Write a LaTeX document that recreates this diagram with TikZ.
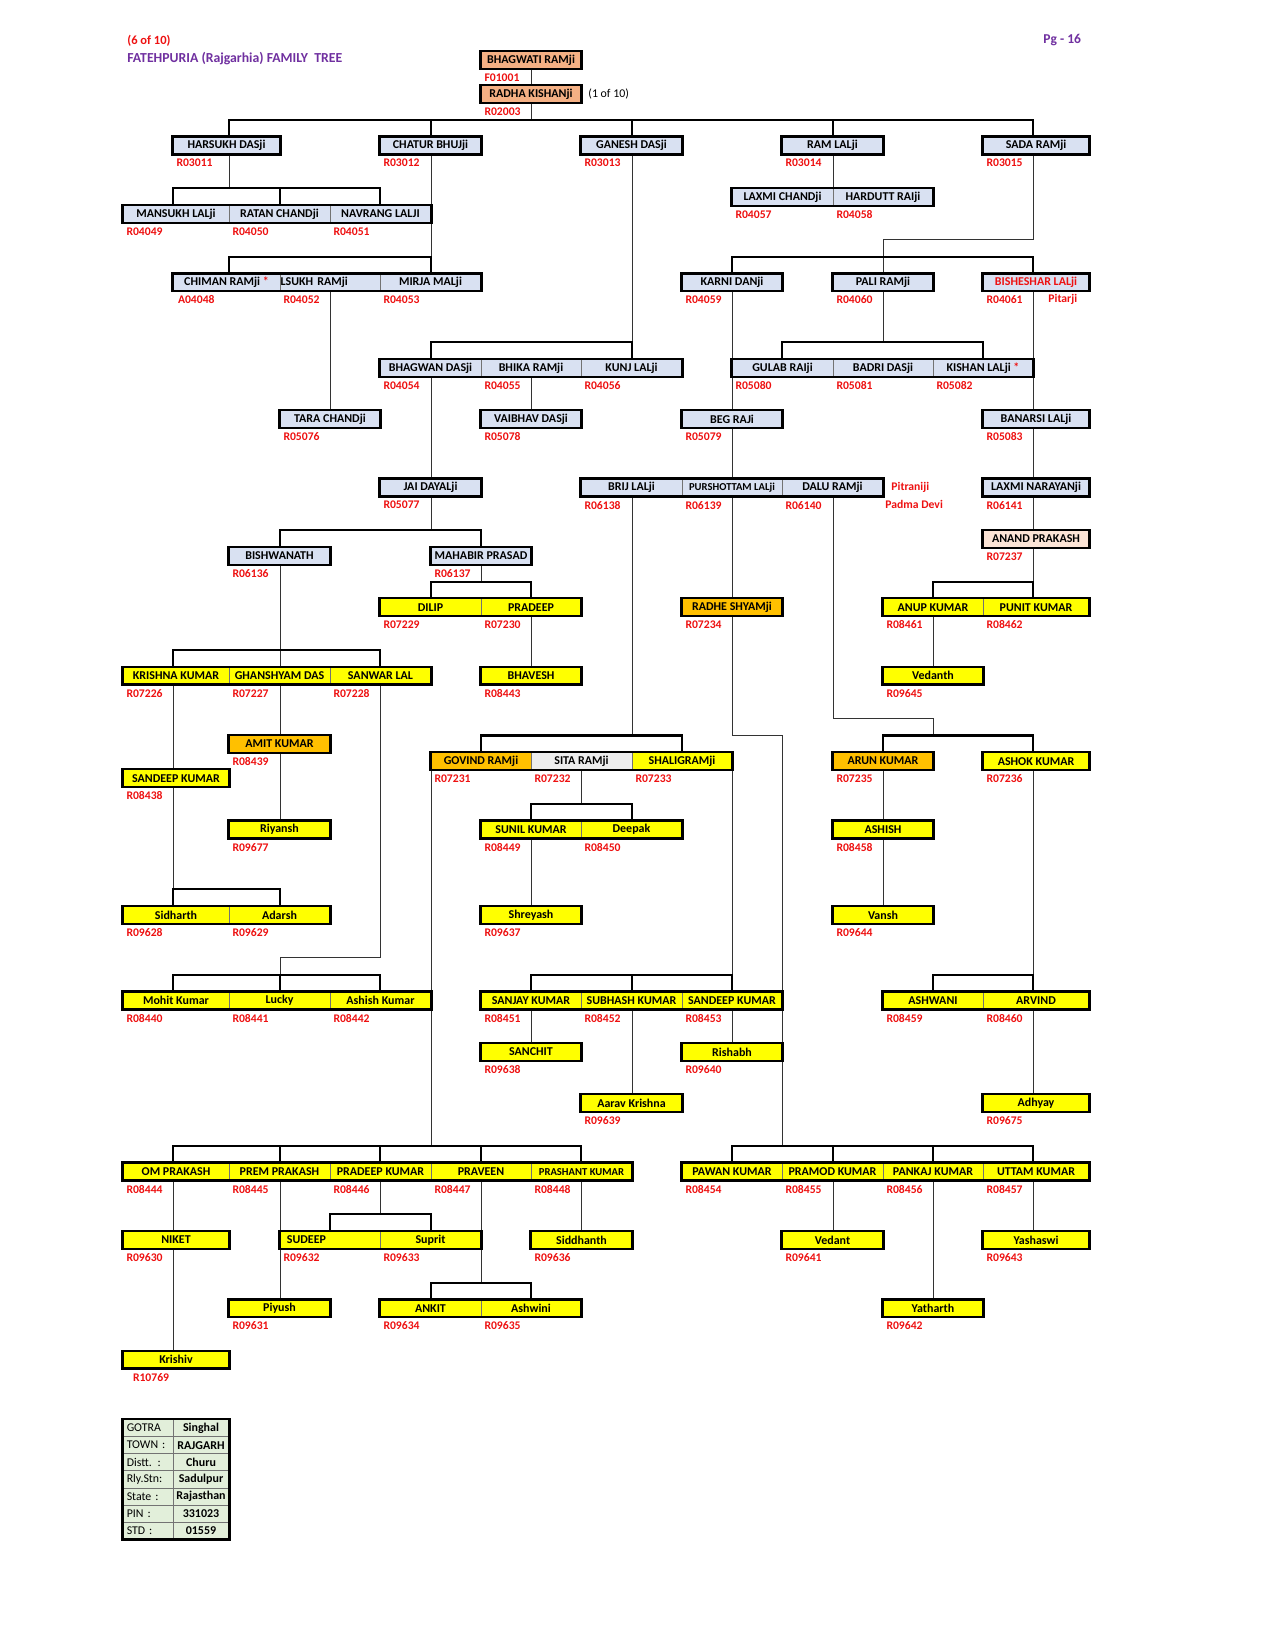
\documentclass[tikz,border=0pt]{standalone}
\usepackage{fontspec}
\setmainfont{Carlito}
\usetikzlibrary{calc}
\definecolor{blueg}{HTML}{D9E1F2}
\definecolor{ylw}{HTML}{FFFF00}
\definecolor{orng}{HTML}{FFC000}
\definecolor{slmn}{HTML}{F4B084}
\definecolor{pch}{HTML}{FCE4D6}
\definecolor{gryc}{HTML}{EDEDED}
\definecolor{grn}{HTML}{E2EFDA}
\definecolor{idred}{HTML}{EE1111}
\definecolor{purp}{HTML}{7030A0}
\def\colx{{123,173,229,280,330,380,431,481,531,581,632,682,732,782,833,883,933,983,1033,1089}}
\newcommand\pcell[6][]{%
  \pgfmathsetmacro\xa{\colx[#3]}%
  \pgfmathsetmacro\xb{\colx[#4]}%
  \pgfmathsetmacro\cw{(\xb-\xa)*0.48}%
  \pgfmathsetmacro\cx{(\xa+\xb)/2}%
  \pgfmathsetmacro\cy{137+17.1*(#5+0.5)}%
  \node[cellbox,minimum width=\cw pt,#1] (#2) at (\cx,\cy) {#6};}
\newcommand\pid[3][3.5]{\node[idlab] (#2id) at ($(#2.south west)+(#1,8.6)$) {#3};}
\newcommand\pgrp[2]{\draw[grpline] (#1.north west) rectangle (#2.south east);}
\tikzset{
  cellbox/.style={draw=black!55,line width=0.4pt,inner sep=0pt,minimum height=8.208pt,
    font=\fontsize{5.75}{6}\selectfont\bfseries,fill=blueg},
  pb/.style={fill=blueg}, py/.style={fill=ylw}, po/.style={fill=orng},
  ps/.style={fill=slmn}, pp/.style={fill=pch}, pg/.style={fill=gryc}, pgr/.style={fill=grn},
  small/.style={font=\fontsize{5.1}{6}\selectfont\bfseries},
  lft/.style={text width={\cw pt-3.6pt},inner xsep=1.8pt,align=left},
  lft0/.style={text width={\cw pt-0.6pt},inner xsep=0.3pt,align=left},
  reg/.style={font=\fontsize{5.7}{6}\selectfont},
  idlab/.style={font=\fontsize{5.6}{6}\selectfont\bfseries,text=idred,anchor=west,inner sep=0pt},
  plain/.style={anchor=west,inner sep=0pt},
  grpline/.style={line width=1.1pt,black},
  bar/.style={line width=1pt,black,line join=miter},
  vline/.style={line width=0.45pt,black!80},
}
\begin{document}
\begin{tikzpicture}[x=0.48pt,y=-0.48pt]
\fill[white] (0,0) rectangle (1275,1650);
\useasboundingbox (0,0) rectangle (1275,1650);
\foreach \i/\v in {0/123,1/173,2/229,3/280,4/330,5/380,6/431,7/481,8/531,9/581,10/632,11/682,12/732,13/782,14/833,15/883,16/933,17/983,18/1033,19/1089}
  \coordinate (c\i) at (\v,0);
\foreach \n in {0,...,82} \coordinate (b\n) at (0,{137+17.1*\n});
\coordinate (btop) at (0,119.9);

% header
\node[plain,font=\fontsize{6}{7}\selectfont\bfseries,text=idred] (pgof) at (127,41) {(6 of 10)};
\node[plain,font=\fontsize{6.6}{8}\selectfont\bfseries,text=purp] (title) at (127,58.5) {FATEHPURIA (Rajgarhia) FAMILY\ \ TREE};
\node[plain,font=\fontsize{6.5}{8}\selectfont\bfseries,text=purp] (pgno) at (1043,40) {Pg - 16};

% cells
\pcell[ps]{bhagwati}{7}{9}{-5}{BHAGWATI RAMji}
\pcell[ps]{radha}{7}{9}{-3}{RADHA KISHANji}
\pcell[pb]{harsukh}{1}{3}{0}{HARSUKH DASji}
\pcell[pb]{chatur}{5}{7}{0}{CHATUR BHUJji}
\pcell[pb]{ganesh}{9}{11}{0}{GANESH DASji}
\pcell[pb]{ramlal}{13}{15}{0}{RAM LALji}
\pcell[pb]{sada}{17}{19}{0}{SADA RAMji}
\pcell[pb]{laxmic}{12}{14}{3}{LAXMI CHANDji}
\pcell[pb]{hardutt}{14}{16}{3}{HARDUTT RAIji}
\pcell[pb]{mansukh}{0}{2}{4}{MANSUKH LALji}
\pcell[pb]{ratan}{2}{4}{4}{RATAN CHANDji}
\pcell[pb]{navrang}{4}{6}{4}{NAVRANG LALJI}
\pcell[pb]{chiman}{1}{3}{8}{CHIMAN RAMji \textcolor{idred}{*}}
\pcell[pb,lft0]{lsukh}{3}{5}{8}{LSUKH RAMji}
\pcell[pb]{mirja}{5}{7}{8}{MIRJA MALji}
\pcell[pb]{karni}{11}{13}{8}{KARNI DANji}
\pcell[pb]{pali}{14}{16}{8}{PALI RAMji}
\pcell[pb,text=idred]{bisheshar}{17}{19}{8}{BISHESHAR LALji}
\pcell[pb]{bhagwan}{5}{7}{13}{BHAGWAN DASji}
\pcell[pb]{bhika}{7}{9}{13}{BHIKA RAMji}
\pcell[pb]{kunj}{9}{11}{13}{KUNJ LALji}
\pcell[pb]{gulab}{12}{14}{13}{GULAB RAIji}
\pcell[pb]{badri}{14}{16}{13}{BADRI DASji}
\pcell[pb]{kishan}{16}{18}{13}{KISHAN LALji \textcolor{idred}{*}}
\pcell[pb]{tara}{3}{5}{16}{TARA CHANDji}
\pcell[pb]{vaibhav}{7}{9}{16}{VAIBHAV DASji}
\pcell[pb]{beg}{11}{13}{16}{BEG RAJi}
\pcell[pb]{banarsi}{17}{19}{16}{BANARSI LALji}
\pcell[pb]{jai}{5}{7}{20}{JAI DAYALji}
\pcell[pb]{brij}{9}{11}{20}{BRIJ LALji}
\pcell[pb,small]{purshottam}{11}{13}{20}{PURSHOTTAM LALji}
\pcell[pb]{dalu}{13}{15}{20}{DALU RAMji}
\pcell[pb]{laxmin}{17}{19}{20}{LAXMI NARAYANji}
\pcell[pp]{anand}{17}{19}{23}{ANAND PRAKASH}
\pcell[pb]{bishwanath}{2}{4}{24}{BISHWANATH}
\pcell[pb]{mahabir}{6}{8}{24}{MAHABIR PRASAD}
\pcell[py]{dilip}{5}{7}{27}{DILIP}
\pcell[py]{pradeep}{7}{9}{27}{PRADEEP}
\pcell[po]{radhe}{11}{13}{27}{RADHE SHYAMji}
\pcell[py]{anup}{15}{17}{27}{ANUP KUMAR}
\pcell[py]{punit}{17}{19}{27}{PUNIT KUMAR}
\pcell[py]{krishna}{0}{2}{31}{KRISHNA KUMAR}
\pcell[py]{ghanshyam}{2}{4}{31}{GHANSHYAM DAS}
\pcell[py]{sanwar}{4}{6}{31}{SANWAR LAL}
\pcell[py]{bhavesh}{7}{9}{31}{BHAVESH}
\pcell[py]{vedanth}{15}{17}{31}{Vedanth}
\pcell[po]{amit}{2}{4}{35}{AMIT KUMAR}
\pcell[po]{govind}{6}{8}{36}{GOVIND RAMji}
\pcell[pg]{sita}{8}{10}{36}{SITA RAMji}
\pcell[py]{shaligram}{10}{12}{36}{SHALIGRAMji}
\pcell[po]{arun}{14}{16}{36}{ARUN KUMAR}
\pcell[py]{ashok}{17}{19}{36}{ASHOK KUMAR}
\pcell[py]{sandeepk}{0}{2}{37}{SANDEEP KUMAR}
\pcell[py]{riyansh}{2}{4}{40}{Riyansh}
\pcell[py]{sunil}{7}{9}{40}{SUNIL KUMAR}
\pcell[py]{deepak}{9}{11}{40}{Deepak}
\pcell[py]{ashish}{14}{16}{40}{ASHISH}
\pcell[py]{sidharth}{0}{2}{45}{Sidharth}
\pcell[py]{adarsh}{2}{4}{45}{Adarsh}
\pcell[py]{shreyash}{7}{9}{45}{Shreyash}
\pcell[py]{vansh}{14}{16}{45}{Vansh}
\pcell[py]{mohit}{0}{2}{50}{Mohit Kumar}
\pcell[py]{lucky}{2}{4}{50}{Lucky}
\pcell[py]{ashishk}{4}{6}{50}{Ashish Kumar}
\pcell[py]{sanjay}{7}{9}{50}{SANJAY KUMAR}
\pcell[py]{subhash}{9}{11}{50}{SUBHASH KUMAR}
\pcell[py]{sandeep}{11}{13}{50}{SANDEEP KUMAR}
\pcell[py]{ashwani}{15}{17}{50}{ASHWANI}
\pcell[py]{arvind}{17}{19}{50}{ARVIND}
\pcell[py]{sanchit}{7}{9}{53}{SANCHIT}
\pcell[py]{rishabh}{11}{13}{53}{Rishabh}
\pcell[py]{aarav}{9}{11}{56}{Aarav Krishna}
\pcell[py]{adhyay}{17}{19}{56}{Adhyay}
\pcell[py]{om}{0}{2}{60}{OM PRAKASH}
\pcell[py]{prem}{2}{4}{60}{PREM PRAKASH}
\pcell[py]{pradeepk}{4}{6}{60}{PRADEEP KUMAR}
\pcell[py]{praveen}{6}{8}{60}{PRAVEEN}
\pcell[py,small]{prashant}{8}{10}{60}{PRASHANT KUMAR}
\pcell[py]{pawan}{11}{13}{60}{PAWAN KUMAR}
\pcell[py]{pramod}{13}{15}{60}{PRAMOD KUMAR}
\pcell[py]{pankaj}{15}{17}{60}{PANKAJ KUMAR}
\pcell[py]{uttam}{17}{19}{60}{UTTAM KUMAR}
\pcell[py]{niket}{0}{2}{64}{NIKET}
\pcell[py,lft]{sudeep}{3}{5}{64}{\hspace*{1.5pt}SUDEEP}
\pcell[py]{suprit}{5}{7}{64}{Suprit}
\pcell[py]{siddhanth}{8}{10}{64}{Siddhanth}
\pcell[py]{vedant}{13}{15}{64}{Vedant}
\pcell[py]{yashaswi}{17}{19}{64}{Yashaswi}
\pcell[py]{piyush}{2}{4}{68}{Piyush}
\pcell[py]{ankit}{5}{7}{68}{ANKIT}
\pcell[py]{ashwini}{7}{9}{68}{Ashwini}
\pcell[py]{yatharth}{15}{17}{68}{Yatharth}
\pcell[py]{krishiv}{0}{2}{71}{Krishiv}

% table
\pcell[pgr,reg,lft]{tl1}{0}{1}{75}{GOTRA}
\pcell[pgr]{tr1}{1}{2}{75}{Singhal}
\pcell[pgr,reg,lft]{tl2}{0}{1}{76}{TOWN :}
\pcell[pgr]{tr2}{1}{2}{76}{RAJGARH}
\pcell[pgr,reg,lft]{tl3}{0}{1}{77}{Distt. :}
\pcell[pgr]{tr3}{1}{2}{77}{Churu}
\pcell[pgr,reg,lft]{tl4}{0}{1}{78}{Rly.Stn:}
\pcell[pgr]{tr4}{1}{2}{78}{Sadulpur}
\pcell[pgr,reg,lft]{tl5}{0}{1}{79}{State :}
\pcell[pgr]{tr5}{1}{2}{79}{Rajasthan}
\pcell[pgr,reg,lft]{tl6}{0}{1}{80}{PIN :}
\pcell[pgr]{tr6}{1}{2}{80}{331023}
\pcell[pgr,reg,lft]{tl7}{0}{1}{81}{STD :}
\pcell[pgr]{tr7}{1}{2}{81}{01559}

% extra texts
\node[plain,reg] (oneof) at (588,{137+17.1*(-2.5)}) {(1 of 10)};
\node[idlab] (pitarji) at (1048,{137+17.1*9.5}) {Pitarji};
\node[idlab] (pitraniji) at (891,{137+17.1*20.5}) {Pitraniji};
\node[idlab] (padma) at (885,{137+17.1*21.5}) {Padma Devi};

% ids
\pid{bhagwati}{F01001} \pid{radha}{R02003}
\pid{harsukh}{R03011} \pid{chatur}{R03012} \pid{ganesh}{R03013} \pid{ramlal}{R03014} \pid{sada}{R03015}
\pid{laxmic}{R04057} \pid{hardutt}{R04058}
\pid{mansukh}{R04049} \pid{ratan}{R04050} \pid{navrang}{R04051}
\pid[5]{chiman}{A04048} \pid{lsukh}{R04052} \pid{mirja}{R04053}
\pid{karni}{R04059} \pid{pali}{R04060} \pid{bisheshar}{R04061}
\pid{bhagwan}{R04054} \pid{bhika}{R04055} \pid{kunj}{R04056}
\pid{gulab}{R05080} \pid{badri}{R05081} \pid{kishan}{R05082}
\pid{tara}{R05076} \pid{vaibhav}{R05078} \pid{beg}{R05079} \pid{banarsi}{R05083}
\pid{jai}{R05077} \pid{brij}{R06138} \pid{purshottam}{R06139} \pid{dalu}{R06140} \pid{laxmin}{R06141}
\pid{anand}{R07237} \pid{bishwanath}{R06136} \pid{mahabir}{R06137}
\pid{dilip}{R07229} \pid{pradeep}{R07230} \pid{radhe}{R07234} \pid{anup}{R08461} \pid{punit}{R08462}
\pid{krishna}{R07226} \pid{ghanshyam}{R07227} \pid{sanwar}{R07228} \pid{bhavesh}{R08443} \pid{vedanth}{R09645}
\pid{amit}{R08439} \pid{govind}{R07231} \pid{sita}{R07232} \pid{shaligram}{R07233} \pid{arun}{R07235} \pid{ashok}{R07236}
\pid{sandeepk}{R08438} \pid{riyansh}{R09677} \pid{sunil}{R08449} \pid{deepak}{R08450} \pid{ashish}{R08458}
\pid{sidharth}{R09628} \pid{adarsh}{R09629} \pid{shreyash}{R09637} \pid{vansh}{R09644}
\pid{mohit}{R08440} \pid{lucky}{R08441} \pid{ashishk}{R08442}
\pid{sanjay}{R08451} \pid{subhash}{R08452} \pid{sandeep}{R08453} \pid{ashwani}{R08459} \pid{arvind}{R08460}
\pid{sanchit}{R09638} \pid{rishabh}{R09640} \pid{aarav}{R09639} \pid{adhyay}{R09675}
\pid{om}{R08444} \pid{prem}{R08445} \pid{pradeepk}{R08446} \pid{praveen}{R08447} \pid{prashant}{R08448}
\pid{pawan}{R08454} \pid{pramod}{R08455} \pid{pankaj}{R08456} \pid{uttam}{R08457}
\pid{niket}{R09630} \pid{sudeep}{R09632} \pid{suprit}{R09633} \pid{siddhanth}{R09636} \pid{vedant}{R09641} \pid{yashaswi}{R09643}
\pid{piyush}{R09631} \pid{ankit}{R09634} \pid{ashwini}{R09635} \pid{yatharth}{R09642}
\pid[10]{krishiv}{R10769}

% connectors
\draw[vline] (bhagwati.south -| c8) -- (radha.north -| c8);
\draw[vline] (radha.south -| c8) -- (c8 |- btop);
\draw[bar] (harsukh.north -| c2) |- (c18 |- btop) -- (sada.north -| c18);
\draw[bar] (c6 |- btop) -- (chatur.north -| c6);
\draw[bar] (c10 |- btop) -- (ganesh.north -| c10);
\draw[bar] (c14 |- btop) -- (ramlal.north -| c14);
% harsukh
\draw[vline] (harsukh.south -| c2) -- (c2 |- b3);
\draw[bar] (mansukh.north -| c1) |- (c5 |- b3) -- (navrang.north -| c5);
\draw[bar] (c3 |- b3) -- (ratan.north -| c3);
% chatur
\draw[vline] (chatur.south -| c6) -- (c6 |- b7);
\draw[bar] (chiman.north -| c2) |- (c6 |- b7) -- (mirja.north -| c6);
\draw[vline] (lsukh.south -| c4) -- (tara.north -| c4);
% ganesh
\draw[vline] (ganesh.south -| c10) -- (c10 |- b12);
\draw[bar] (bhagwan.north -| c6) |- (c10 |- b12) -- (kunj.north -| c10);
\draw[vline] (bhika.south -| c8) -- (vaibhav.north -| c8);
\draw[vline] (bhagwan.south -| c6) -- (jai.north -| c6);
\draw[vline] (jai.south -| c6) -- (c6 |- b23);
\draw[bar] (bishwanath.north -| c3) |- (c7 |- b23) -- (mahabir.north -| c7);
\draw[vline] (mahabir.south -| c7) -- (c7 |- b26);
\draw[bar] (dilip.north -| c6) |- (c8 |- b26) -- (pradeep.north -| c8);
\draw[vline] (pradeep.south -| c8) -- (bhavesh.north -| c8);
\draw[vline] (bishwanath.south -| c3) -- (ghanshyam.north -| c3);
\draw[bar] (krishna.north -| c1) |- (c5 |- b30) -- (sanwar.north -| c5);
\draw[vline] (ghanshyam.south -| c3) -- (amit.north -| c3);
\draw[vline] (amit.south -| c3) -- (riyansh.north -| c3);
\draw[vline] (krishna.south -| c1) -- (sandeepk.north -| c1);
\draw[vline] (sandeepk.south -| c1) -- (c1 |- b44);
\draw[bar] (sidharth.north -| c1) |- (c3 |- b44) -- (adarsh.north -| c3);
\draw[vline] (sanwar.south -| c5) |- (c3 |- b48) -- (c3 |- b49);
\draw[bar] (mohit.north -| c1) |- (c5 |- b49) -- (ashishk.north -| c5);
\draw[bar] (c3 |- b49) -- (lucky.north -| c3);
% ram lal
\draw[vline] (ramlal.south -| c14) -- (laxmic.north -| c14);
% sada
\draw[vline] (sada.south -| c18) |- (c15 |- b6) -- (pali.north -| c15);
\draw[bar] (karni.north -| c12) |- (c18 |- b7) -- (bisheshar.north -| c18);
\draw[vline] (pali.south -| c15) -- (c15 |- b12);
\draw[bar] (gulab.north -| c13) |- (c17 |- b12) -- (kishan.north -| c17);
\draw[vline] (karni.south -| c12) -- (beg.north -| c12);
\draw[vline] (beg.south -| c12) -- (purshottam.north -| c12);
\draw[vline] (brij.south -| c10) -- (c10 |- b35);
\draw[bar] (govind.north -| c7) |- (c11 |- b35) -- (shaligram.north -| c11);
\draw[vline] (sita.south -| c9) -- (c9 |- b39);
\draw[bar] (sunil.north -| c8) |- (c10 |- b39) -- (deepak.north -| c10);
\draw[vline] (sunil.south -| c8) -- (shreyash.north -| c8);
\draw[vline] (shaligram.south -| c12) -- (c12 |- b49);
\draw[bar] (sanjay.north -| c8) |- (c12 |- b49) -- (sandeep.north -| c12);
\draw[bar] (c10 |- b49) -- (subhash.north -| c10);
\draw[vline] (sanjay.south -| c8) -- (sanchit.north -| c8);
\draw[vline] (sandeep.south -| c12) -- (rishabh.north -| c12);
\draw[vline] (subhash.south -| c10) -- (aarav.north -| c10);
\draw[vline] (govind.south -| c6) -- (c6 |- b59);
\draw[bar] (om.north -| c1) |- (c9 |- b59) -- (prashant.north -| c9);
\draw[bar] (c3 |- b59) -- (prem.north -| c3);
\draw[bar] (c5 |- b59) -- (pradeepk.north -| c5);
\draw[bar] (c7 |- b59) -- (praveen.north -| c7);
\draw[vline] (om.south -| c1) -- (niket.north -| c1);
\draw[vline] (niket.south -| c1) -- (krishiv.north -| c1);
\draw[vline] (prem.south -| c3) -- (piyush.north -| c3);
\draw[vline] (pradeepk.south -| c5) -- (c5 |- b63);
\draw[bar] (sudeep.north -| c4) |- (c6 |- b63) -- (suprit.north -| c6);
\draw[vline] (praveen.south -| c7) -- (c7 |- b67);
\draw[bar] (ankit.north -| c6) |- (c8 |- b67) -- (ashwini.north -| c8);
\draw[vline] (prashant.south -| c9) -- (siddhanth.north -| c9);
\draw[vline] (purshottam.south -| c12) -- (radhe.north -| c12);
\draw[vline] (radhe.south -| c12) |- (c13 |- b35) -- (c13 |- b59);
\draw[bar] (pawan.north -| c12) |- (c18 |- b59) -- (uttam.north -| c18);
\draw[bar] (c14 |- b59) -- (pramod.north -| c14);
\draw[bar] (c16 |- b59) -- (pankaj.north -| c16);
\draw[vline] (pramod.south -| c14) -- (vedant.north -| c14);
\draw[vline] (pankaj.south -| c16) -- (yatharth.north -| c16);
\draw[vline] (uttam.south -| c18) -- (yashaswi.north -| c18);
\draw[vline] (dalu.south -| c14) |- (c16 |- b34) -- (c16 |- b35);
\draw[bar] (arun.north -| c15) |- (c18 |- b35) -- (ashok.north -| c18);
\draw[vline] (arun.south -| c15) -- (ashish.north -| c15);
\draw[vline] (ashish.south -| c15) -- (vansh.north -| c15);
\draw[vline] (ashok.south -| c18) -- (c18 |- b49);
\draw[bar] (ashwani.north -| c16) |- (c18 |- b49) -- (arvind.north -| c18);
\draw[vline] (arvind.south -| c18) -- (adhyay.north -| c18);
\draw[vline] (bisheshar.south -| c18) -- (banarsi.north -| c18);
\draw[vline] (banarsi.south -| c18) -- (laxmin.north -| c18);
\draw[vline] (laxmin.south -| c18) -- (anand.north -| c18);
\draw[vline] (anand.south -| c18) -- (c18 |- b26);
\draw[bar] (anup.north -| c16) |- (c18 |- b26) -- (punit.north -| c18);
\draw[vline] (anup.south -| c16) -- (vedanth.north -| c16);

% group outlines
\pgrp{bhagwati}{bhagwati} \pgrp{radha}{radha}
\pgrp{harsukh}{harsukh} \pgrp{chatur}{chatur} \pgrp{ganesh}{ganesh} \pgrp{ramlal}{ramlal} \pgrp{sada}{sada}
\pgrp{laxmic}{hardutt} \pgrp{mansukh}{navrang} \pgrp{chiman}{mirja}
\pgrp{karni}{karni} \pgrp{pali}{pali} \pgrp{bisheshar}{bisheshar}
\pgrp{bhagwan}{kunj} \pgrp{gulab}{kishan}
\pgrp{tara}{tara} \pgrp{vaibhav}{vaibhav} \pgrp{beg}{beg} \pgrp{banarsi}{banarsi}
\pgrp{jai}{jai} \pgrp{brij}{dalu} \pgrp{laxmin}{laxmin} \pgrp{anand}{anand}
\pgrp{bishwanath}{bishwanath} \pgrp{mahabir}{mahabir}
\pgrp{dilip}{pradeep} \pgrp{radhe}{radhe} \pgrp{anup}{punit}
\pgrp{krishna}{sanwar} \pgrp{bhavesh}{bhavesh} \pgrp{vedanth}{vedanth}
\pgrp{amit}{amit} \pgrp{govind}{shaligram} \pgrp{arun}{arun} \pgrp{ashok}{ashok}
\pgrp{sandeepk}{sandeepk} \pgrp{riyansh}{riyansh} \pgrp{sunil}{deepak} \pgrp{ashish}{ashish}
\pgrp{sidharth}{adarsh} \pgrp{shreyash}{shreyash} \pgrp{vansh}{vansh}
\pgrp{mohit}{ashishk} \pgrp{sanjay}{sandeep} \pgrp{ashwani}{arvind}
\pgrp{sanchit}{sanchit} \pgrp{rishabh}{rishabh} \pgrp{aarav}{aarav} \pgrp{adhyay}{adhyay}
\pgrp{om}{prashant} \pgrp{pawan}{uttam}
\pgrp{niket}{niket} \pgrp{sudeep}{suprit} \pgrp{siddhanth}{siddhanth} \pgrp{vedant}{vedant} \pgrp{yashaswi}{yashaswi}
\pgrp{piyush}{piyush} \pgrp{ankit}{ashwini} \pgrp{yatharth}{yatharth} \pgrp{krishiv}{krishiv}
\pgrp{tl1}{tr7}
\end{tikzpicture}
\end{document}
